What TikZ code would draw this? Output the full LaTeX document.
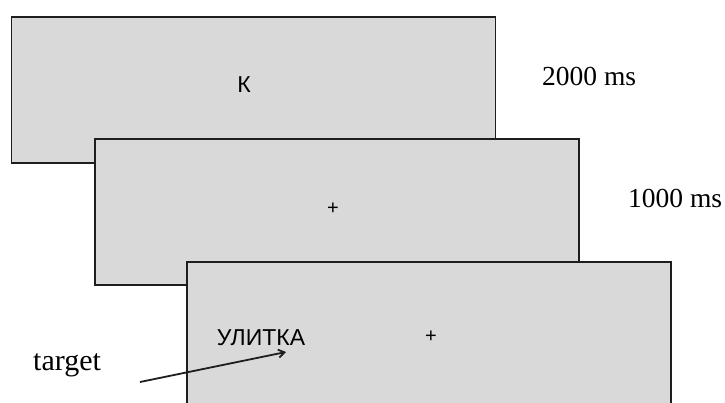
\documentclass[tikz,border=0pt]{standalone}
\usepackage{fontspec}
\setmainfont{Liberation Serif}
\newfontfamily\sansf{Liberation Sans}
\usetikzlibrary{arrows.meta}
\definecolor{panel}{RGB}{217,217,217}
\definecolor{edge}{RGB}{30,30,30}
\begin{document}
\begin{tikzpicture}[x=1pt,y=-1pt,
  screen/.style={draw=edge,fill=panel,line width=1.7pt,rectangle,minimum width=484pt,minimum height=146pt,inner sep=0pt},
  stim/.style={font=\sansf\fontsize{23}{23}\selectfont,inner sep=0pt,anchor=base},
  fix/.style={font=\sansf\fontsize{20}{20}\selectfont,inner sep=0pt},
  lab/.style={font=\fontsize{27.5}{27.5}\selectfont,inner sep=0pt,anchor=base west},
  pointer/.style={draw=edge,line width=1.8pt,-{Straight Barb[length=6pt,width=8pt]}}]
\useasboundingbox (0,0) rectangle (725,403);
\clip (0,0) rectangle (725,403);
\node[screen] (s1) at (253.5,90) {};
\node[screen] (s2) at (337,212) {};
\node[screen] (s3) at (429,335) {};
\node[stim] (k) at (244,93) {К};
\node[fix] (p1) at (333,209) {+};
\node[stim] (w) at (261,345) {УЛИТКА};
\node[fix] (p2) at (431,337) {+};
\node[lab] (t1) at (542,86) {2000 ms};
\node[lab] (t2) at (628,208) {1000 ms};
\node[lab,font=\fontsize{30}{30}\selectfont] (tg) at (33,370) {target};
\coordinate (a0) at (140,382);
\coordinate (a1) at (286,352);
\draw[pointer] (a0) -- (a1);
\end{tikzpicture}
\end{document}
